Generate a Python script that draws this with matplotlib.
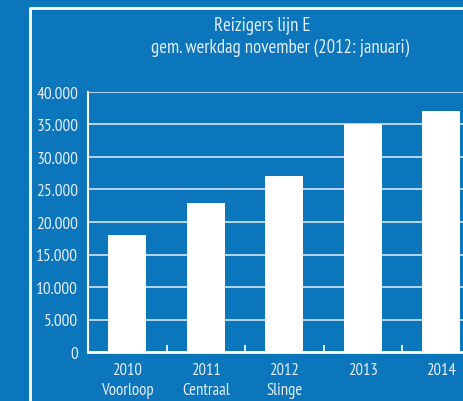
import matplotlib.pyplot as plt
from matplotlib.lines import Line2D
from matplotlib.ticker import FuncFormatter
import numpy as np

plt.rcParams['font.family'] = ['PT Sans Narrow', 'DejaVu Sans']

# Reizigers per gemiddelde werkdag
labels = ['2010\nVoorloop', '2011\nCentraal', '2012\nSlinge', '2013', '2014']
reizigers = [18000, 23000, 27000, 35000, 37000]

bg = '#0c76bc'
txt = '#e6eef8'
fs = 12

fig = plt.figure(figsize=(4.63, 4.02), dpi=100, facecolor=bg)
ax = fig.add_axes([88 / 463, 49 / 402, 392.5 / 463, 260 / 402], facecolor=bg)

x = np.arange(len(reizigers))
ax.set_axisbelow(True)
ax.yaxis.grid(True, color='#d6e4f2', linewidth=1.2)
ax.bar(x, reizigers, width=0.48, color='white', zorder=3)

ax.set_xlim(-0.5, len(reizigers) - 0.5)
ax.set_ylim(0, 40000)
ax.set_yticks(np.arange(0, 40001, 5000))
ax.yaxis.set_major_formatter(FuncFormatter(lambda v, p: f'{int(v):,}'.replace(',', '.')))
ax.set_xticks(x)
ax.set_xticklabels(labels)
ax.set_xticks(np.arange(0.5, len(reizigers) - 0.5, 1), minor=True)

ax.tick_params(axis='y', length=0, pad=7, labelsize=12.5, labelcolor=txt)
ax.tick_params(axis='x', which='major', length=0, pad=7, labelsize=fs, labelcolor=txt)
ax.tick_params(axis='x', which='minor', length=5, width=1.2, color='white', direction='in')
for lbl in ax.get_xticklabels():
    lbl.set_linespacing(1.35)

for s in ['top', 'right']:
    ax.spines[s].set_visible(False)
ax.spines['left'].set_color('white')
ax.spines['bottom'].set_color('white')
ax.spines['left'].set_linewidth(1.5)
ax.spines['bottom'].set_linewidth(2)

fig.text(262 / 463, 1 - 26 / 402, 'Reizigers lijn E', ha='center', va='center',
         color=txt, fontsize=13.5)
fig.text(280 / 463, 1 - 48 / 402, 'gem. werkdag november (2012: januari)', ha='center',
         va='center', color=txt, fontsize=13.5)

# witte kader
fig.add_artist(Line2D([29.5 / 463, 29.5 / 463, 1.0], [0.0, 1 - 8.5 / 402, 1 - 8.5 / 402],
                      transform=fig.transFigure, color='white', linewidth=2))

fig.savefig('out.png', dpi=100, facecolor=bg)
